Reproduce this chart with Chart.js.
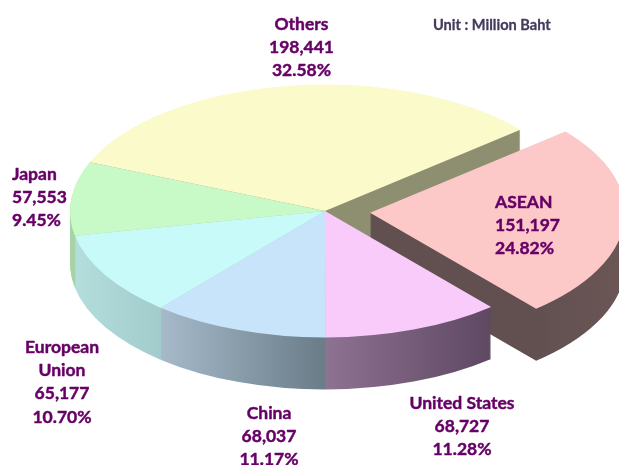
<!DOCTYPE html>
<html><head><meta charset="utf-8">
<script src="https://cdn.jsdelivr.net/npm/chart.js@4/dist/chart.umd.min.js"></script>
<style>html,body{margin:0;padding:0;background:#fff}#wrap{width:619px;height:465px;position:relative}</style>
</head><body><div id="wrap"><canvas id="c" width="619" height="465"></canvas></div>
<script>
// ---- data ----
const categories = ['ASEAN', 'United States', 'China', ['European', 'Union'], 'Japan', 'Others'];
const values = [151197, 68727, 68037, 65177, 57553, 198441];
const unitText = 'Unit : Million Baht';
// ---- styles ----
const topColors = ['#FCC8C8', '#F9CBFB', '#C8E4FA', '#C8FAFA', '#C8FAC8', '#FAFACB'];
const sideColors = [['#625050', '#6C5656'], ['#8E7292', '#5E4862'], ['#A6BACA', '#6A7C88'], ['#B4DEDC', '#A2CCCC'], ['#A8D4A8', '#A0CCA0'], ['#8E8E70', '#8E8E70']];

const total = values.reduce((a, b) => a + b, 0);

const pie3d = {
  id: 'pie3d',
  beforeDatasetsDraw(chart, args, opts) {
    const ctx = chart.ctx;
    const arcs = chart.getDatasetMeta(0).data;
    const cx = arcs[0].x, cy = arcs[0].y;
    const sx = opts.rx / arcs[0].outerRadius, sy = opts.ry / arcs[0].outerRadius;
    const applyT = (i) => {
      const el = arcs[i];
      const mid = (el.startAngle + el.endAngle) / 2;
      const e = opts.explode[i] || 0;
      ctx.translate(cx, cy);
      ctx.scale(sx, sy);
      ctx.translate(Math.cos(mid) * e, Math.sin(mid) * e);
      ctx.translate(-cx, -cy);
    };
    const grads = arcs.map((el, i) => {
      const mid = (el.startAngle + el.endAngle) / 2;
      const e = opts.explode[i] || 0;
      let mn = Infinity, mx = -Infinity;
      for (let s = 0; s <= 40; s++) {
        const a = el.startAngle + (el.endAngle - el.startAngle) * s / 40;
        const x = cx + sx * (el.outerRadius * Math.cos(a) + Math.cos(mid) * e);
        mn = Math.min(mn, x); mx = Math.max(mx, x);
      }
      const g = ctx.createLinearGradient(mn, 0, mx, 0);
      g.addColorStop(0, sideColors[i][0]);
      g.addColorStop(1, sideColors[i][1]);
      return g;
    });
    for (let k = opts.depth; k >= 1; k--) {
      for (let i = 0; i < arcs.length; i++) {
        const el = arcs[i];
        ctx.save();
        ctx.translate(0, k);
        applyT(i);
        ctx.beginPath();
        ctx.moveTo(el.x, el.y);
        ctx.arc(el.x, el.y, el.outerRadius, el.startAngle, el.endAngle);
        ctx.closePath();
        ctx.setTransform(1, 0, 0, 1, 0, 0);
        ctx.fillStyle = grads[i];
        ctx.fill();
        ctx.restore();
      }
    }
    for (let i = 0; i < arcs.length; i++) {
      ctx.save();
      applyT(i);
      arcs[i].draw(ctx);
      ctx.restore();
    }
    return false;
  },
  afterDraw(chart, args, opts) {
    const ctx = chart.ctx;
    ctx.save();
    ctx.fillStyle = '#660066';
    ctx.strokeStyle = '#660066';
    ctx.lineWidth = 0.45;
    ctx.lineJoin = 'round';
    ctx.font = 'bold 17.5px Lato';
    ctx.textBaseline = 'alphabetic';
    categories.forEach((c, i) => {
      const lines = (Array.isArray(c) ? c.slice() : [c]);
      lines.push(values[i].toLocaleString('en-US'));
      lines.push((values[i] / total * 100).toFixed(2) + '%');
      const p = opts.pos[i];
      ctx.textAlign = p.align;
      lines.forEach((t, j) => {
        ctx.fillText(t, p.x, p.y + j * opts.lineH);
        ctx.strokeText(t, p.x, p.y + j * opts.lineH);
      });
    });
    ctx.font = 'bold 14.6px Lato';
    ctx.fillStyle = '#463A5C';
    ctx.strokeStyle = '#463A5C';
    ctx.lineWidth = 0.3;
    ctx.textAlign = 'left';
    ctx.fillText(unitText, 433, 30);
    ctx.strokeText(unitText, 433, 30);
    ctx.restore();
  }
};

new Chart(document.getElementById('c'), {
  type: 'pie',
  data: {
    labels: categories,
    datasets: [{ data: values, backgroundColor: topColors, borderWidth: 0 }]
  },
  options: {
    responsive: false,
    animation: false,
    devicePixelRatio: 1,
    rotation: 50,
    layout: { padding: { left: 31, right: 0, top: 0, bottom: 43 } },
    plugins: {
      legend: { display: false },
      tooltip: { enabled: false },
      pie3d: {
        rx: 255, ry: 126.5, depth: 52,
        explode: [37.4, 0, 0, 0, 0, 0],
        lineH: 23.2,
        pos: [
          { x: 495, y: 208, align: 'left' },
          { x: 462, y: 409, align: 'center' },
          { x: 269, y: 419, align: 'center' },
          { x: 62, y: 353, align: 'center' },
          { x: 12, y: 180, align: 'left' },
          { x: 301.5, y: 29.5, align: 'center' }
        ]
      }
    }
  },
  plugins: [pie3d]
});
</script>
</body></html>
